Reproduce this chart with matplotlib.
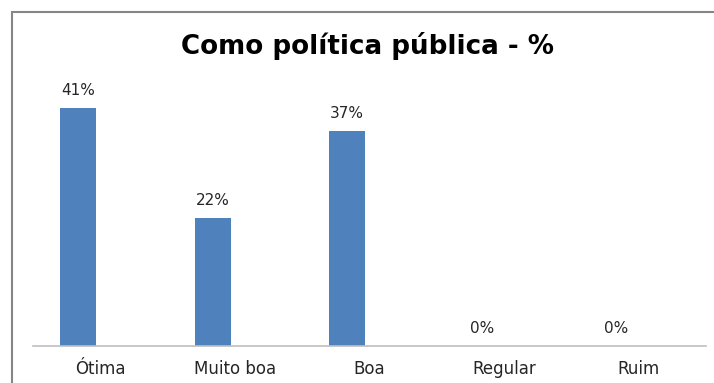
import matplotlib.pyplot as plt
from matplotlib.patches import Rectangle
import numpy as np

categories = ['Ótima', 'Muito boa', 'Boa', 'Regular', 'Ruim']
values = [41, 22, 37, 0, 0]
labels = ['41%', '22%', '37%', '0%', '0%']

plt.rcParams['font.family'] = ['DejaVu Sans']

W, H = 714, 383
fig = plt.figure(figsize=(W / 100, H / 100), dpi=100)
ax = fig.add_axes([33 / W, (H - 346) / H, (706 - 33) / W, (346 - 56) / H])

x = np.arange(len(categories))
offset = -0.165
ax.bar(x + offset, values, width=0.267, color='#4F81BD')
for xi, v, lab in zip(x, values, labels):
    ax.text(xi + offset, v + 1.8, lab, ha='center', va='bottom',
            fontsize=11, color='#262626')

ax.set_xlim(-0.5, len(categories) - 0.5)
ax.set_ylim(0, 50)
ax.set_xticks(x)
ax.set_xticklabels(categories, fontsize=12, color='#262626')
ax.tick_params(axis='x', length=0, pad=10)
ax.set_yticks([])
for s in ['top', 'right', 'left']:
    ax.spines[s].set_visible(False)
ax.spines['bottom'].set_color('#BFBFBF')
ax.spines['bottom'].set_linewidth(1.2)

fig.text(368 / W, (H - 46) / H, 'Como política pública - %', ha='center',
         va='center', fontsize=18.8, fontweight='bold', color='black')

# chart border (cut off at right and bottom)
fig.patches.append(Rectangle((12 / W, -0.1), 1.2, (H - 12) / H + 0.1,
                             transform=fig.transFigure, fill=False,
                             edgecolor='#868686', linewidth=1.5))

fig.savefig('out.png', dpi=100)
